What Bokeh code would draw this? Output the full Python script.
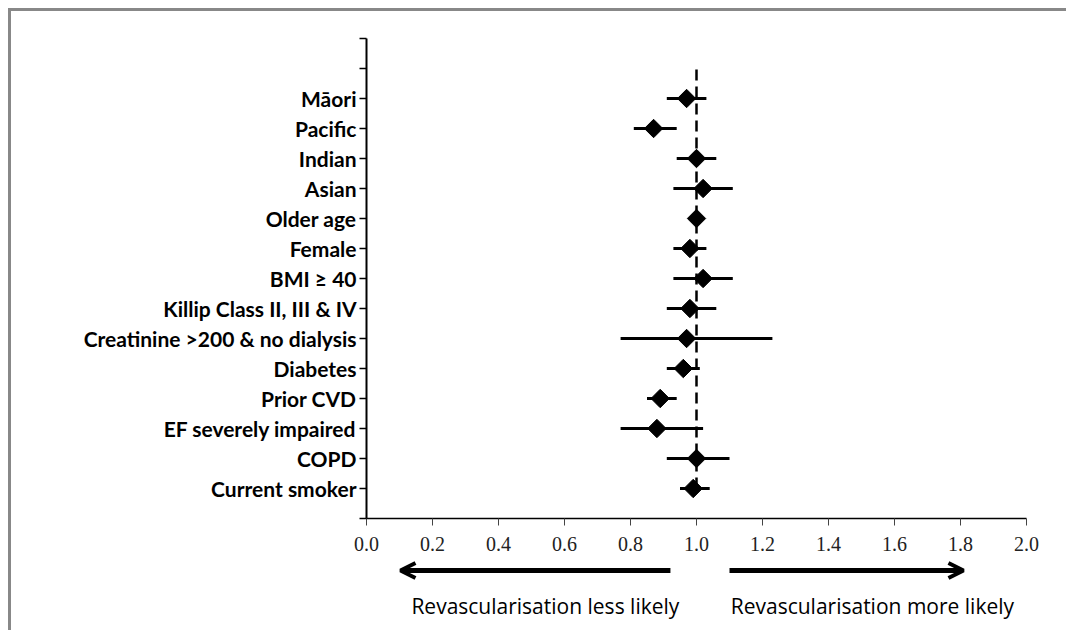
from bokeh.plotting import figure
from bokeh.layouts import column, row
from bokeh.models import (FixedTicker, Arrow, OpenHead, Label, ColumnDataSource, Spacer,
                          GlobalInlineStyleSheet)
from bokeh.embed import file_html
from bokeh.resources import INLINE
import math

# ---- data ----
categories = ["Māori", "Pacific", "Indian", "Asian", "Older age", "Female", "BMI ≥ 40",
              "Killip Class II, III & IV", "Creatinine >200 & no dialysis", "Diabetes",
              "Prior CVD", "EF severely impaired", "COPD", "Current smoker"]
estimate = [0.97, 0.87, 1.00, 1.02, 1.00, 0.98, 1.02, 0.98, 0.97, 0.96, 0.89, 0.88, 1.00, 0.99]
lower = [0.91, 0.81, 0.94, 0.93, 0.99, 0.93, 0.93, 0.91, 0.77, 0.91, 0.85, 0.77, 0.91, 0.95]
upper = [1.03, 0.94, 1.06, 1.11, 1.01, 1.03, 1.11, 1.06, 1.23, 1.01, 0.94, 1.02, 1.10, 1.04]
x_ticks = [0.0, 0.2, 0.4, 0.6, 0.8, 1.0, 1.2, 1.4, 1.6, 1.8, 2.0]
x_tick_labels = ["0.0", "0.2", "0.4", "0.6", "0.8", "1.0", "1.2", "1.4", "1.6", "1.8", "2.0"]
ref_x = [1.0, 1.0]
ref_y = [1, 15]
less_text = "Revascularisation less likely"
more_text = "Revascularisation more likely"
less_arrow = (0.921, 0.103)   # start, tip (odds ratio scale)
more_arrow = (1.100, 1.809)
less_text_x = 0.542
more_text_x = 1.533

n = len(categories)
positions = [n - i for i in range(n)]  # top category highest
src = ColumnDataSource(dict(cat=categories, est=estimate, lo=lower, hi=upper, pos=positions))

LEFT, RIGHT, W = 355, 50, 1065
PH, QH = 548, 71

p = figure(width=W, height=PH, x_range=(0, 2), y_range=(0, 16),
           output_backend="svg", toolbar_location=None,
           min_border_left=LEFT, min_border_right=RIGHT, min_border_top=27, min_border_bottom=41)
p.outline_line_color = None
p.xgrid.visible = False
p.ygrid.visible = False

# y axis
p.yaxis.ticker = FixedTicker(ticks=list(range(0, 17)))
overrides = {i: "" for i in range(0, 17)}
overrides.update({pos: c for pos, c in zip(positions, categories)})
p.yaxis.major_label_overrides = overrides
p.yaxis.major_tick_out = 7
p.yaxis.major_tick_in = 0
p.yaxis.minor_tick_line_color = None
p.yaxis.axis_line_width = 2
p.yaxis.major_tick_line_width = 1.5
p.yaxis.axis_line_color = "black"
p.yaxis.major_tick_line_color = "black"
p.yaxis.major_label_standoff = 3
p.yaxis.major_label_text_font = "Lato"
p.yaxis.major_label_text_font_style = "bold"
p.yaxis.major_label_text_font_size = "21px"
p.yaxis.major_label_text_color = "black"

# x axis
p.xaxis.ticker = FixedTicker(ticks=x_ticks)
p.xaxis.major_label_overrides = {t: l for t, l in zip(x_ticks, x_tick_labels)}
p.xaxis.major_tick_out = 7
p.xaxis.major_tick_in = 0
p.xaxis.minor_tick_line_color = None
p.xaxis.axis_line_width = 1.5
p.xaxis.axis_line_color = "black"
p.xaxis.major_tick_line_color = "#444444"
p.xaxis.major_label_standoff = 11
p.xaxis.major_label_text_font = "Liberation Serif"
p.xaxis.major_label_text_font_size = "20px"
p.xaxis.major_label_text_color = "#222222"

# reference line
p.line(ref_x, ref_y, line_color="black", line_width=2.5, line_dash="11 6")

# CI segments
p.segment(x0="lo", y0="pos", x1="hi", y1="pos", source=src, line_color="black", line_width=3)
# diamonds
p.scatter(x="est", y="pos", source=src, marker="square", angle=math.pi / 4, size=13,
          fill_color="black", line_color="black")

# strip below with arrows and captions
q = figure(width=W, height=QH, x_range=p.x_range, y_range=(0, QH),
           output_backend="svg", toolbar_location=None,
           x_axis_location=None, y_axis_location=None,
           min_border_left=LEFT, min_border_right=RIGHT, min_border_top=0, min_border_bottom=0)
q.outline_line_color = None
q.xgrid.visible = False
q.ygrid.visible = False

arrow_y = QH - 11
q.add_layout(Arrow(x_start=less_arrow[0], y_start=arrow_y, x_end=less_arrow[1], y_end=arrow_y,
                   line_width=5, line_color="black",
                   end=OpenHead(size=15, line_width=4, line_color="black")))
q.add_layout(Arrow(x_start=more_arrow[0], y_start=arrow_y, x_end=more_arrow[1], y_end=arrow_y,
                   line_width=5, line_color="black",
                   end=OpenHead(size=15, line_width=4, line_color="black")))
q.add_layout(Label(x=less_text_x, y=QH - 46, text=less_text, text_align="center", text_baseline="middle",
                   text_font="Open Sans", text_font_size="21px", text_color="black"))
q.add_layout(Label(x=more_text_x, y=QH - 46, text=more_text, text_align="center", text_baseline="middle",
                   text_font="Open Sans", text_font_size="21px", text_color="black"))

# gray chart-area border (top and left edges) as plain spacers
top_bar = Spacer(width=W + 3, height=3, styles={"background-color": "#888888"})
left_bar = Spacer(width=3, height=PH + QH, styles={"background-color": "#888888"})

layout = column(top_bar, row(left_bar, column(p, q, spacing=0), spacing=0), spacing=0)
layout.styles = {"margin-left": "8px", "margin-top": "8px"}
layout.stylesheets = [GlobalInlineStyleSheet(css="html, body { overflow: hidden; }")]

open("out.html", "w").write(file_html(layout, INLINE))
